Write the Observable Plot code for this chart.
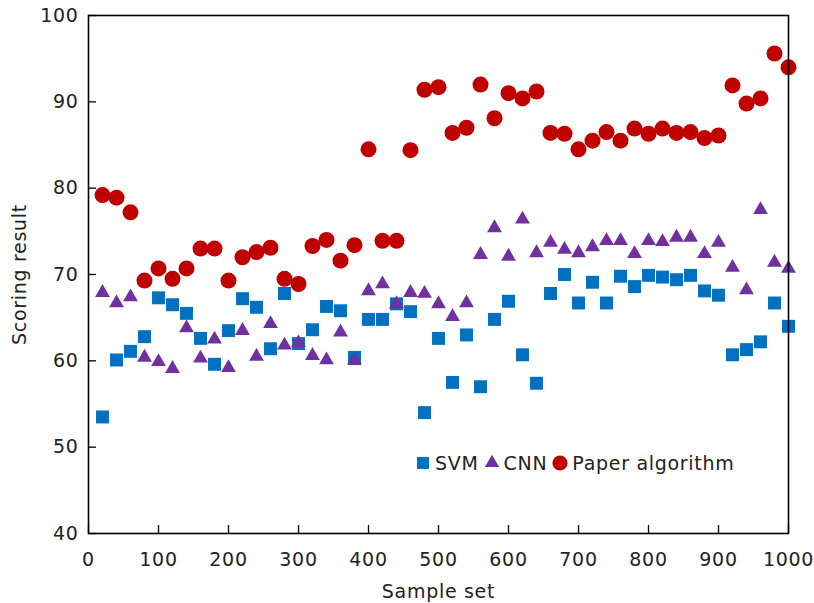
<!DOCTYPE html>
<html>
<head>
<meta charset="utf-8">
<script src="https://cdn.jsdelivr.net/npm/d3@7"></script>
<script src="https://cdn.jsdelivr.net/npm/@observablehq/plot@0.6"></script>
<style>
  html, body { margin: 0; padding: 0; background: #fff; }
  #wrap { position: relative; width: 814px; height: 603px; font-family: "DejaVu Sans", Verdana, sans-serif; }
  #wrap svg text { letter-spacing: 0.7px; }
  #legend { position: absolute; left: 415px; top: 452px; display: flex; align-items: center; font-size: 19px; letter-spacing: 0.7px; color: #222; line-height: 22px; }
  #legend .item { display: flex; align-items: center; margin-right: 5px; }
  #legend svg { margin-right: 4px; }
</style>
</head>
<body>
<div id="wrap"></div>
<script>
const sampleSet = [20,40,60,80,100,120,140,160,180,200,220,240,260,280,300,320,340,360,380,400,
  420,440,460,480,500,520,540,560,580,600,620,640,660,680,700,720,740,760,780,800,
  820,840,860,880,900,920,940,960,980,1000];

const svm = [53.5,60.1,61.1,62.8,67.3,66.5,65.5,62.6,59.6,63.5,67.2,66.2,61.4,67.8,62.0,63.6,66.3,65.8,60.4,64.8,
  64.8,66.6,65.7,54.0,62.6,57.5,63.0,57.0,64.8,66.9,60.7,57.4,67.8,70.0,66.7,69.1,66.7,69.8,68.6,69.9,
  69.7,69.4,69.9,68.1,67.6,60.7,61.3,62.2,66.7,64.0];

const cnn = [67.9,66.7,67.4,60.4,59.9,59.1,63.8,60.3,62.5,59.2,63.5,60.5,64.3,61.8,62.1,60.6,60.1,63.3,60.0,68.1,
  68.9,66.6,67.9,67.8,66.6,65.1,66.7,72.3,75.4,72.1,76.4,72.5,73.7,72.9,72.5,73.2,73.9,73.9,72.4,73.9,
  73.8,74.3,74.3,72.4,73.7,70.8,68.2,77.5,71.4,70.7];

const paper = [79.2,78.9,77.2,69.3,70.7,69.5,70.7,73.0,73.0,69.3,72.0,72.6,73.1,69.5,68.9,73.3,74.0,71.6,73.4,84.5,
  73.9,73.9,84.4,91.4,91.7,86.4,87.0,92.0,88.1,91.0,90.4,91.2,86.4,86.3,84.5,85.5,86.5,85.5,86.9,86.3,
  86.9,86.4,86.5,85.8,86.1,91.9,89.8,90.4,95.6,94.0];

const seriesNames = ["SVM", "CNN", "Paper algorithm"];
const seriesColors = ["#0070C0", "#7030A0", "#C00000"];
const seriesSymbols = ["square", "triangle", "circle"];
const seriesR = [7.3, 5.5, 8];
const xTicks = [0,100,200,300,400,500,600,700,800,900,1000];
const yTicks = [40,50,60,70,80,90,100];

const seriesData = [svm, cnn, paper];
const rows = seriesData.map(vals => sampleSet.map((x, i) => ({x, v: vals[i]})));

const chart = Plot.plot({
  width: 814,
  height: 603,
  marginLeft: 88,
  marginRight: 26,
  marginTop: 15,
  marginBottom: 70,
  style: {fontFamily: '"DejaVu Sans", Verdana, sans-serif', fontSize: "19px", color: "#222", background: "#fff"},
  x: {domain: [0, 1000]},
  y: {domain: [40, 100]},
  marks: [
    ...rows.map((d, k) => Plot.dot(d, {x: "x", y: "v", symbol: () => seriesSymbols[k], r: seriesR[k], fill: seriesColors[k], stroke: "none"})),
    Plot.axisX({ticks: xTicks, tickSize: 8, dy: -8, tickFormat: () => "", label: null, stroke: "#000", strokeWidth: 1.3}),
    Plot.axisY({ticks: yTicks, tickSize: 8, dx: 8, tickFormat: () => "", label: null, stroke: "#000", strokeWidth: 1.3}),
    Plot.axisX({ticks: xTicks, tickSize: 0, tickPadding: 19, tickFormat: d => String(d), label: "Sample set", labelAnchor: "center", labelOffset: 64, labelArrow: "none", fill: "#222"}),
    Plot.axisY({ticks: yTicks, tickSize: 0, tickPadding: 10, tickFormat: d => String(d), label: "Scoring result", labelAnchor: "center", labelOffset: 76, labelArrow: "none", fill: "#222"}),
    Plot.frame({stroke: "#000", strokeWidth: 1.6})
  ]
});
const wrap = document.getElementById("wrap");
wrap.appendChild(chart);

// legend
const legend = document.createElement("div");
legend.id = "legend";
const symGen = {square: d3.symbolSquare, triangle: d3.symbolTriangle, circle: d3.symbolCircle};
const legendR = [6.8, 5.3, 7.6];
seriesNames.forEach((name, k) => {
  const item = document.createElement("div");
  item.className = "item";
  const s = 16;
  const path = d3.symbol(symGen[seriesSymbols[k]], Math.PI * legendR[k] * legendR[k])();
  item.innerHTML = `<svg width="${s}" height="${s}" viewBox="${-s/2} ${-s/2} ${s} ${s}"><path d="${path}" fill="${seriesColors[k]}"/></svg><span>${name}</span>`;
  legend.appendChild(item);
});
wrap.appendChild(legend);
</script>
</body>
</html>
